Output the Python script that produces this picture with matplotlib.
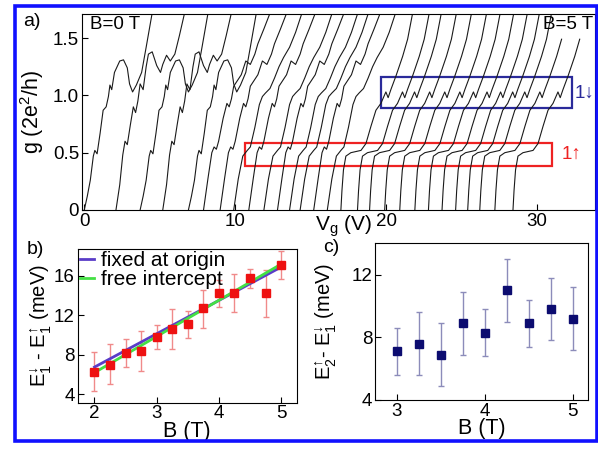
import numpy as np
import matplotlib
matplotlib.use('Agg')
import matplotlib.pyplot as plt
from matplotlib.patches import Rectangle

plt.rcParams['font.family'] = ['Liberation Sans', 'DejaVu Sans']
plt.rcParams['mathtext.fontset'] = 'custom'
plt.rcParams['mathtext.rm'] = 'Liberation Sans'
plt.rcParams['mathtext.it'] = 'Liberation Sans:italic'
plt.rcParams['font.size'] = 13.5
LAB = 15.5

# ---- panel a: g(Vg) traces, B = 0 ... 5 T, each trace shifted in Vg
trace_start = [0.0, 2.1, 3.7, 5.2, 6.9, 7.9, 9.0, 9.9, 10.9, 11.9, 12.8, 13.6, 14.3, 15.2,
               16.1, 17.0, 18.1, 18.9, 19.9, 20.9, 21.9, 22.8, 23.7, 24.6, 25.4, 26.2, 27.2, 28.4]
trace_shape = [0, 1, 0, 1, 0, 2, 2, 3, 2, 3, 2, 3, 3, 2, 3, 4, 4, 4, 4, 4, 4, 4, 4, 4, 4, 4, 4, 4]
trace_gmax = [1.75] * 26 + [1.62, 1.49]

# shapes (dVg from trace start, g)
low_dv = [0, 0.2, 0.4, 0.6, 0.7, 0.85, 1.05, 1.25, 1.45, 1.6, 1.7, 1.82, 2.0, 2.35, 2.6, 2.85,
          3.0, 3.2, 3.45, 3.8, 4.1, 4.5]
low_g = [0, 0.12, 0.26, 0.47, 0.52, 0.49, 0.67, 0.87, 0.9, 0.99, 1.09, 1.05, 1.2, 1.3, 1.31, 1.24,
         1.1, 1.03, 1.09, 1.2, 1.42, 1.72]
low2_dv = [0, 0.25, 0.45, 0.6, 0.75, 0.95, 1.15, 1.3, 1.45, 1.6, 1.8, 2.0, 2.15, 2.4, 2.7, 2.95,
           3.1, 3.35, 3.6, 3.9, 4.2, 4.6]
low2_g = [0, 0.22, 0.48, 0.6, 0.57, 0.74, 0.9, 0.85, 0.95, 1.1, 1.05, 1.25, 1.36, 1.38, 1.26, 1.2,
          1.27, 1.35, 1.3, 1.36, 1.52, 1.75]
mid_dv = [0, 0.3, 0.55, 0.7, 0.85, 1.0, 1.3, 1.55, 1.7, 1.85, 2.0, 2.2, 2.5, 2.8, 3.1, 3.4,
          3.6, 4.0, 4.5]
mid_g = [0, 0.28, 0.5, 0.55, 0.53, 0.6, 0.8, 0.93, 0.9, 0.97, 1.08, 1.12, 1.18, 1.3, 1.27, 1.36,
         1.45, 1.58, 1.75]
mid2_dv = [0, 0.3, 0.6, 0.9, 1.1, 1.4, 1.7, 1.9, 2.1, 2.4, 2.7, 3.0, 3.3, 3.7, 4.1, 4.6]
mid2_g = [0, 0.27, 0.47, 0.52, 0.55, 0.72, 0.92, 0.99, 1.02, 1.06, 1.15, 1.25, 1.33, 1.42, 1.55, 1.75]
high_dv = [0, 0.07, 0.17, 0.33, 0.66, 1.33, 1.66, 1.99, 2.32, 2.65, 2.98, 3.13, 3.31, 3.65, 4.09,
           4.42, 4.8]
high_g = [0, 0.17, 0.35, 0.47, 0.50, 0.52, 0.58, 0.73, 0.87, 0.93, 1.03, 0.98, 1.05, 1.17, 1.34,
          1.49, 1.75]
shapes = [(low_dv, low_g), (low2_dv, low2_g), (mid_dv, mid_g), (mid2_dv, mid2_g), (high_dv, high_g)]

# ---- panel b: E1down - E1up
b_B = [2, 2.25, 2.5, 2.75, 3, 3.25, 3.5, 3.75, 4, 4.25, 4.5, 4.75, 5]
b_E = [6.3, 7.0, 8.2, 8.4, 9.8, 10.6, 11.1, 12.7, 14.3, 14.3, 15.8, 14.3, 17.1]
b_lo = [4.3, 5.0, 6.8, 6.4, 8.6, 8.6, 9.7, 10.7, 12.9, 12.3, 14.8, 11.8, 15.7]
b_hi = [8.3, 9.1, 9.6, 10.4, 11.0, 12.6, 12.4, 14.6, 15.6, 16.2, 16.7, 16.6, 18.5]
fit_origin = [6.76, 16.9]   # at B = 2 and 5
fit_free = [6.2, 17.2]

# ---- panel c: E2up - E1down
c_B = [3, 3.25, 3.5, 3.75, 4, 4.25, 4.5, 4.75, 5]
c_E = [7.1, 7.6, 6.9, 8.9, 8.3, 11.0, 8.9, 9.8, 9.2]
c_lo = [5.6, 5.6, 4.9, 6.9, 6.8, 9.0, 7.4, 7.8, 7.2]
c_hi = [8.6, 9.6, 8.9, 10.9, 9.8, 13.0, 10.4, 11.8, 11.2]

W, H = 598, 451
fig = plt.figure(figsize=(W / 100, H / 100), dpi=100)


def px_axes(l, t, r, b):
    return fig.add_axes([l / W, 1 - b / H, (r - l) / W, (b - t) / H])


# blue frame round the whole figure
fig.patches.append(Rectangle((14.5 / W, 1 - 440.5 / H), 582 / W, 435 / H, transform=fig.transFigure,
                             fill=False, edgecolor='#1010ff', linewidth=2.6))

# panel a
ax = px_axes(82, 14, 594.5, 210)
for i in range(len(trace_start)):
    dv, g = shapes[trace_shape[i]]
    x = np.array(dv) + trace_start[i]
    y = np.array(g)
    keep = y <= trace_gmax[i]
    ax.plot(x[keep], y[keep], color='#1a1a1a', lw=0.8)
ax.add_patch(Rectangle((10.65, 0.38), 31.0 - 10.65, 0.588 - 0.38, fill=False, edgecolor='#ee2222', lw=1.6))
ax.add_patch(Rectangle((19.65, 0.889), 32.33 - 19.65, 1.157 - 0.889, fill=False, edgecolor='#2a2a9a', lw=1.6))
ax.text(31.6, 0.49, '1\u2191', color='#ee2222', va='center')
ax.text(32.5, 1.02, '1\u2193', color='#2a2a9a', va='center')
ax.text(0.4, 1.62, 'B=0 T', va='center')
ax.text(33.7, 1.62, 'B=5 T', va='center', ha='right')
ax.set_xlim(-0.15, 33.8)
ax.set_ylim(0, 1.71)
ax.set_xticks([0, 10, 20, 30])
ax.set_yticks([0, 0.5, 1.0, 1.5])
ax.set_yticklabels(['0', '0.5', '1.0', '1.5'])
ax.tick_params(direction='in', length=4, pad=2)
ax.set_ylabel('g (2e$^2$/h)', labelpad=5, fontsize=LAB)
ax.text(0.51, -0.085, 'V$_\\mathregular{g}$ (V)', transform=ax.transAxes, ha='center', va='center',
        fontsize=15)

# panel b
axb = px_axes(77.7, 249.3, 296.7, 402.7)
axb.errorbar(b_B, b_E, yerr=[np.subtract(b_E, b_lo), np.subtract(b_hi, b_E)], fmt='none',
             ecolor='#f08a8a', elinewidth=1.0, capsize=2)
axb.plot([2, 5], fit_origin, color='#5a3cc8', lw=2.0, label='fixed at origin')
axb.plot([2, 5], fit_free, color='#44e044', lw=2.0, label='free intercept')
axb.plot(b_B, b_E, 's', color='#ee1111', ms=5.5, ls='none')
axb.set_xlim(1.73, 5.25)
axb.set_ylim(3.15, 18.7)
axb.set_xticks([2, 3, 4, 5])
axb.set_yticks([4, 8, 12, 16])
axb.tick_params(direction='in', length=4, pad=2)
axb.set_xlabel('B (T)', labelpad=-1, fontsize=LAB)
axb.set_ylabel('E$_1^{\u2193}$ - E$_1^{\u2191}$ (meV)', labelpad=0, fontsize=14.5)
axb.legend(loc='upper left', frameon=False, handlelength=0.7, handletextpad=0.3, labelspacing=0.0,
           borderaxespad=0.0, borderpad=0.1, fontsize=15)

# panel c
axc = px_axes(375, 243.3, 587.7, 400)
axc.errorbar(c_B, c_E, yerr=[np.subtract(c_E, c_lo), np.subtract(c_hi, c_E)], fmt='s', color='#0c0c70',
             ms=5.5, ecolor='#8c8cba', elinewidth=1.0, capsize=2)
axc.set_xlim(2.75, 5.17)
axc.set_ylim(4, 14)
axc.set_xticks([3, 4, 5])
axc.set_yticks([4, 8, 12])
axc.tick_params(direction='in', length=4, pad=2)
axc.set_xlabel('B (T)', labelpad=-1, fontsize=LAB)
axc.set_ylabel('E$_2^{\u2191}$- E$_1^{\u2193}$ (meV)', labelpad=9, fontsize=14.5)

fig.text(32 / W, 1 - 21 / H, 'a)', ha='center', va='center', fontsize=14)
fig.text(35 / W, 1 - 250 / H, 'b)', ha='center', va='center', fontsize=14)
fig.text(331 / W, 1 - 247 / H, 'c)', ha='center', va='center', fontsize=14)

fig.savefig('out.png', dpi=100)
